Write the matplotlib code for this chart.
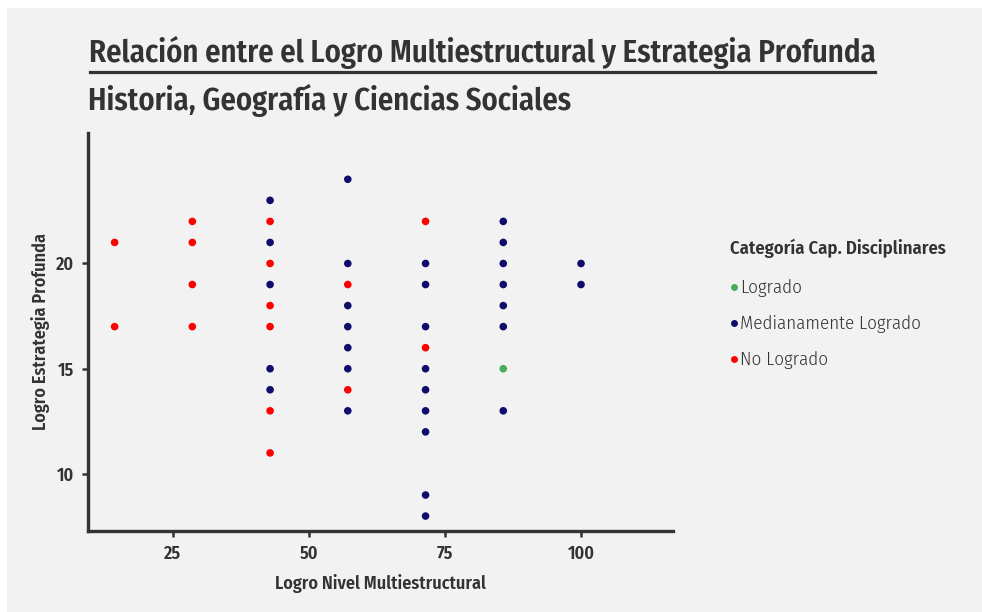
import matplotlib
matplotlib.use("Agg")
import matplotlib.pyplot as plt
from matplotlib.patches import Rectangle
from matplotlib.lines import Line2D

plt.rcParams['font.family'] = ['Fira Sans Condensed', 'DejaVu Sans']

# datos: logro multiestructural (x), estrategia profunda (y), categoria
multiestructural = [14.29, 14.29,
                    28.57, 28.57, 28.57, 28.57,
                    42.86, 42.86, 42.86, 42.86, 42.86, 42.86, 42.86, 42.86, 42.86, 42.86, 42.86,
                    57.14, 57.14, 57.14, 57.14, 57.14, 57.14, 57.14, 57.14, 57.14,
                    71.43, 71.43, 71.43, 71.43, 71.43, 71.43, 71.43, 71.43, 71.43, 71.43, 71.43,
                    85.71, 85.71, 85.71, 85.71, 85.71, 85.71, 85.71, 85.71,
                    100, 100]
profunda = [21, 17,
            22, 21, 19, 17,
            23, 22, 21, 20, 19, 18, 17, 15, 14, 13, 11,
            24, 20, 19, 18, 17, 16, 15, 14, 13,
            22, 20, 19, 17, 16, 15, 14, 13, 12, 9, 8,
            22, 21, 20, 19, 18, 17, 15, 13,
            20, 19]
categoria = ['N', 'N',
             'N', 'N', 'N', 'N',
             'M', 'N', 'M', 'N', 'M', 'N', 'N', 'M', 'M', 'N', 'N',
             'M', 'M', 'N', 'M', 'M', 'M', 'M', 'N', 'M',
             'N', 'M', 'M', 'M', 'N', 'M', 'M', 'M', 'M', 'M', 'M',
             'M', 'M', 'M', 'M', 'M', 'M', 'L', 'M',
             'M', 'M']

etiquetas = {'L': 'Logrado', 'M': 'Medianamente Logrado', 'N': 'No Logrado'}
colores = {'L': '#45ad5a', 'M': '#100c6e', 'N': '#ff0000'}

gris = '#333333'
fondo = '#f2f2f2'

fig = plt.figure(figsize=(9.82, 6.12), dpi=100, facecolor='white')
fig.patches.append(Rectangle((7/982, 0), 975/982, 604/612, transform=fig.transFigure,
                             facecolor=fondo, edgecolor='none', zorder=-10))

ax = fig.add_axes([88/982, (612-531)/612, (673-88)/982, (531-133)/612])
ax.set_facecolor(fondo)

for c in ['L', 'M', 'N']:
    xs = [x for x, k in zip(multiestructural, categoria) if k == c]
    ys = [y for y, k in zip(profunda, categoria) if k == c]
    ax.scatter(xs, ys, s=30, color=colores[c], edgecolors='none', zorder=3)

ax.set_xlim(9.4, 116.9)
ax.set_ylim(7.29, 26.2)
ax.set_xticks([25, 50, 75, 100])
ax.set_yticks([10, 15, 20])

for lado in ['top', 'right']:
    ax.spines[lado].set_visible(False)
for lado in ['left', 'bottom']:
    ax.spines[lado].set_color(gris)
    ax.spines[lado].set_linewidth(2.4)
ax.tick_params(colors=gris, width=1.8, length=4, labelsize=13, pad=6)
for t in ax.get_xticklabels() + ax.get_yticklabels():
    t.set_fontweight(600)

ax.set_xlabel('Logro Nivel Multiestructural', fontsize=13, fontweight=600, color=gris, labelpad=8)
ax.set_ylabel('Logro Estrategia Profunda', fontsize=13, fontweight=600, color=gris, labelpad=4)

fig.text(89/982, 1 - 52/612, 'Relación entre el Logro Multiestructural y Estrategia Profunda',
         fontsize=22.1, fontweight=600, color=gris, va='center', ha='left')
fig.add_artist(Line2D([90/982, 875/982], [1 - 72/612, 1 - 72/612], transform=fig.transFigure,
                      color=gris, linewidth=2.3))
fig.text(88/982, 1 - 100/612, 'Historia, Geografía y Ciencias Sociales',
         fontsize=22.1, fontweight=600, color=gris, va='center', ha='left')

manijas = [Line2D([], [], marker='o', linestyle='none', markersize=5,
                  markerfacecolor=colores[c], markeredgecolor='none') for c in ['L', 'M', 'N']]
leg = fig.legend(manijas, [etiquetas[c] for c in ['L', 'M', 'N']],
                 title='Categoría Cap. Disciplinares', loc='upper left',
                 bbox_to_anchor=(713/982, 1 - 222/612), frameon=False,
                 prop={'size': 13.6, 'weight': 300}, title_fontsize=13.4, handlelength=0.4,
                 handletextpad=0.15, labelspacing=0.95, alignment='left')
leg.get_title().set_fontweight(600)
leg.get_title().set_color(gris)
leg._legend_box.sep = 15
for t in leg.get_texts():
    t.set_color(gris)

fig.savefig('out.png', dpi=100, facecolor='white')
